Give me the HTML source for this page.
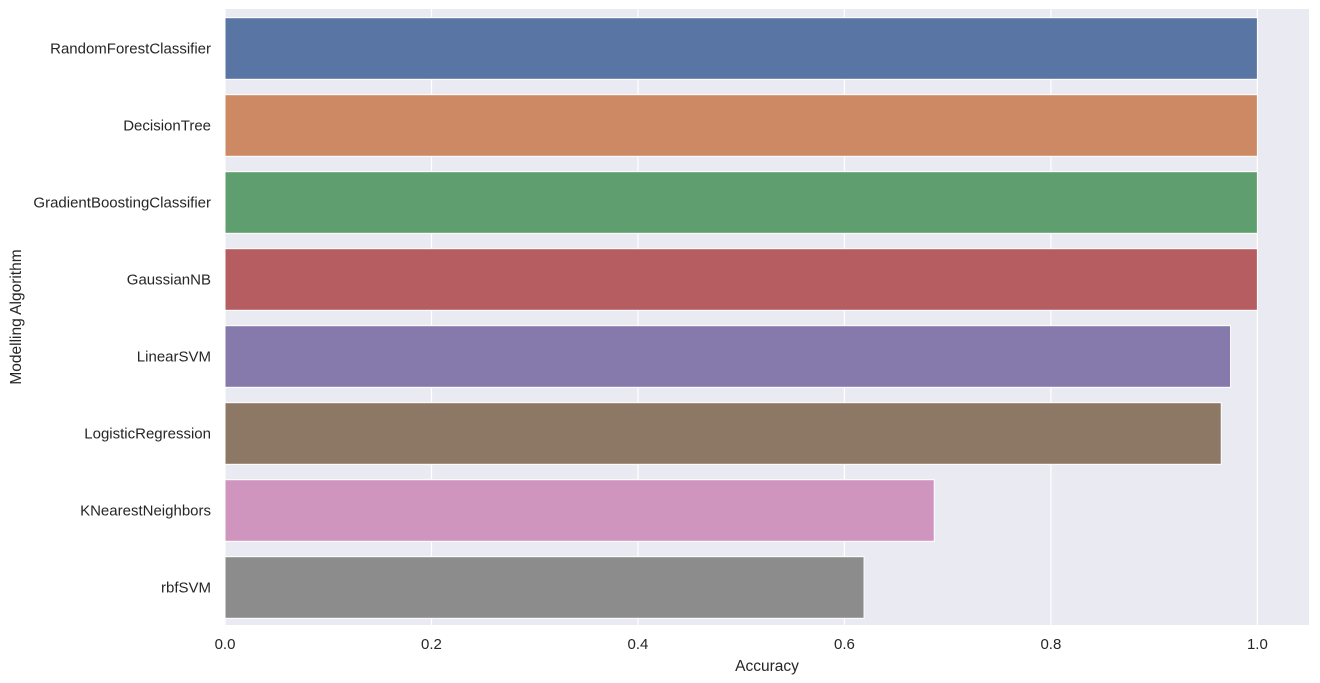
<!DOCTYPE html>
<html><head><meta charset="utf-8"><style>
html,body{margin:0;padding:0;background:#fff;}
svg{display:block;font-family:"Liberation Sans","DejaVu Sans",sans-serif;}
</style></head><body>
<svg id="chart" width="1320" height="683"></svg>
<script>
const categories = ["RandomForestClassifier","DecisionTree","GradientBoostingClassifier","GaussianNB","LinearSVM","LogisticRegression","KNearestNeighbors","rbfSVM"];
const accuracyValues = [1.0,1.0,1.0,1.0,0.974,0.965,0.687,0.619];
const barColors = ["#5975a4","#cc8963","#5f9e6e","#b55d60","#857aab","#8d7866","#d095bf","#8c8c8c"];
const xTicks = [0.0,0.2,0.4,0.6,0.8,1.0];
const xTickLabels = ["0.0","0.2","0.4","0.6","0.8","1.0"];

const NS="http://www.w3.org/2000/svg";
const svg=document.getElementById('chart');
const L=225,R=1309,T=10,B=626;
const xMax=1.05;
const xs=v=>L+(v/xMax)*(R-L);
const band=(B-T)/categories.length;
const ys=i=>T+i*band;
function mk(tag,attrs,parent){const e=document.createElementNS(NS,tag);for(const k in attrs)e.setAttribute(k,attrs[k]);(parent||svg).appendChild(e);return e;}

const bg=mk('rect',{x:L,y:T-1,width:R-L,height:B-T,fill:'#eaeaf2'});



xTicks.forEach((t,i)=>{
  const g=mk('line',{x1:xs(t),x2:xs(t),y1:T-1,y2:B-1,stroke:'#fff','stroke-width':1.25});
  
  
  const tx=mk('text',{x:xs(t),y:B+23,'text-anchor':'middle','font-size':15,fill:'#262626'});
  tx.textContent=xTickLabels[i];
  
  
});

categories.forEach((c,i)=>{
  const h=band*0.8;
  const y0=ys(i)+band*0.1;
  const r=mk('rect',{x:xs(0),y:y0,width:xs(accuracyValues[i])-xs(0),height:h,fill:barColors[i],stroke:'#fff','stroke-width':1});
  
  
  const tx=mk('text',{x:L-14,y:ys(i)+band/2+5,'text-anchor':'end','font-size':15,fill:'#262626'});
  tx.textContent=c;
  
  
});

const xl=mk('text',{x:(L+R)/2,y:671,'text-anchor':'middle','font-size':15.5,fill:'#262626'});
xl.textContent='Accuracy';


const yl=mk('text',{x:0,y:0,'text-anchor':'middle','font-size':15.5,fill:'#262626',transform:'translate(21,317) rotate(-90)'});
yl.textContent='Modelling Algorithm';


</script>
</body></html>
